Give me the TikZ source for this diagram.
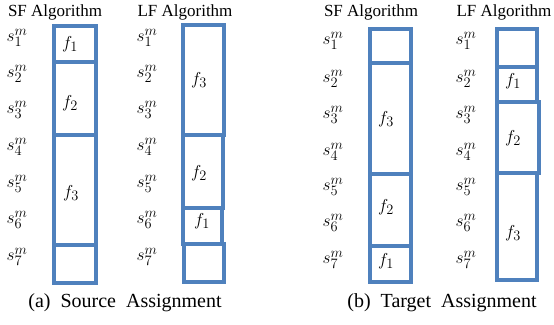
\documentclass[tikz,border=0pt]{standalone}
\usepackage{fontspec}
\setmainfont{Liberation Serif}
\usepackage{xcolor}
\usetikzlibrary{positioning}
\definecolor{slotblue}{RGB}{79,129,189}

\begin{document}
\begin{tikzpicture}[x=1pt,y=-1pt,
  slot/.style={draw=slotblue,line width=3.2pt},
  head/.style={font=\fontsize{17}{19}\selectfont},
  caption/.style={font=\fontsize{20}{22}\selectfont},
  server/.style={inner sep=0pt,font=\fontsize{19}{21}\selectfont},
  flow/.style={inner sep=0pt,font=\fontsize{19}{21}\selectfont}]
  \useasboundingbox (0,0) rectangle (554,324);
%---------------------------------------------------------------- (a) SF
  \node[head] (aSF) at (55,12) {SF Algorithm};
  \node[server] (as1) at (17,38) {$s_1^m$};
  \node[server] (as2) at (17,74) {$s_2^m$};
  \node[server] (as3) at (17,110) {$s_3^m$};
  \node[server] (as4) at (17,147) {$s_4^m$};
  \node[server] (as5) at (17,184) {$s_5^m$};
  \node[server] (as6) at (17,220) {$s_6^m$};
  \node[server] (as7) at (17,257) {$s_7^m$};
  \draw[slot] (54,26) rectangle (96,62);
  \draw[slot] (54,62) rectangle (96,135);
  \draw[slot] (54,135) rectangle (96,245);
  \draw[slot] (54,245) rectangle (96,283);
  \node[flow] (af1) at (70,44) {$f_1$};
  \node[flow] (af2) at (70,103) {$f_2$};
  \node[flow] (af3) at (71,193) {$f_3$};
%---------------------------------------------------------------- (a) LF
  \node[head] (aLF) at (185,12) {LF Algorithm};
  \node[server] (al1) at (147,38) {$s_1^m$};
  \node[server] (al2) at (147,74) {$s_2^m$};
  \node[server] (al3) at (147,110) {$s_3^m$};
  \node[server] (al4) at (147,147) {$s_4^m$};
  \node[server] (al5) at (147,184) {$s_5^m$};
  \node[server] (al6) at (147,220) {$s_6^m$};
  \node[server] (al7) at (147,257) {$s_7^m$};
  \draw[slot] (183,25) rectangle (224,135);
  \draw[slot] (183,135) rectangle (223,208);
  \draw[slot] (183,208) rectangle (222,244);
  \draw[slot] (184,244) rectangle (224,282);
  \node[flow] (ag3) at (199,80) {$f_3$};
  \node[flow] (ag2) at (199,173) {$f_2$};
  \node[flow] (ag1) at (202,221) {$f_1$};
  \node[caption] (acap) at (125,303) {(a)\ \ Source\ \ Assignment};
%---------------------------------------------------------------- (b) SF
  \node[head] (bSF) at (371,12) {SF Algorithm};
  \node[server] (bs1) at (333,41) {$s_1^m$};
  \node[server] (bs2) at (333,79) {$s_2^m$};
  \node[server] (bs3) at (333,115) {$s_3^m$};
  \node[server] (bs4) at (333,152) {$s_4^m$};
  \node[server] (bs5) at (333,187) {$s_5^m$};
  \node[server] (bs6) at (333,223) {$s_6^m$};
  \node[server] (bs7) at (333,260) {$s_7^m$};
  \draw[slot] (370,29) rectangle (411,63);
  \draw[slot] (370,63) rectangle (411,174);
  \draw[slot] (370,174) rectangle (411,246);
  \draw[slot] (370,246) rectangle (411,282);
  \node[flow] (bf3) at (386,119) {$f_3$};
  \node[flow] (bf2) at (386,207) {$f_2$};
  \node[flow] (bf1) at (386,261) {$f_1$};
%---------------------------------------------------------------- (b) LF
  \node[head] (bLF) at (504,12) {LF Algorithm};
  \node[server] (bl1) at (466,41) {$s_1^m$};
  \node[server] (bl2) at (466,79) {$s_2^m$};
  \node[server] (bl3) at (466,115) {$s_3^m$};
  \node[server] (bl4) at (466,152) {$s_4^m$};
  \node[server] (bl5) at (466,187) {$s_5^m$};
  \node[server] (bl6) at (466,223) {$s_6^m$};
  \node[server] (bl7) at (466,260) {$s_7^m$};
  \draw[slot] (497,29) rectangle (537,67);
  \draw[slot] (497,67) rectangle (537,102);
  \draw[slot] (497,102) rectangle (539,173);
  \draw[slot] (497,173) rectangle (537,280);
  \node[flow] (bg1) at (513,81) {$f_1$};
  \node[flow] (bg2) at (513,138) {$f_2$};
  \node[flow] (bg3) at (513,233) {$f_3$};
  \node[caption] (bcap) at (442,303) {(b)\ \ Target\ \ Assignment};
\end{tikzpicture}
\end{document}
